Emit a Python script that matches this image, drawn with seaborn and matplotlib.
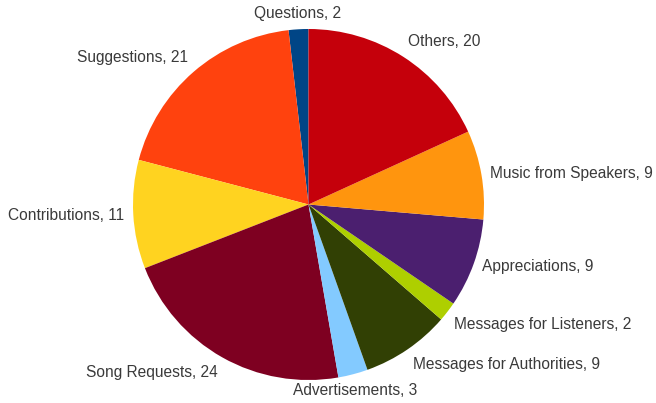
import numpy as np
import matplotlib
matplotlib.use("Agg")
import matplotlib.pyplot as plt
import seaborn as sns

# Data (counter-clockwise from 12 o'clock)
categories = ["Questions", "Suggestions", "Contributions", "Song Requests",
              "Advertisements", "Messages for Authorities", "Messages for Listeners",
              "Appreciations", "Music from Speakers", "Others"]
values = [2, 21, 11, 24, 3, 9, 2, 9, 9, 20]
colors = ["#004586", "#ff420e", "#ffd320", "#7e0021", "#83caff",
          "#314004", "#aecf00", "#4b1f6f", "#ff950e", "#c5000b"]

sns.set_theme(style="white")
plt.rcParams['font.family'] = ['Liberation Sans', 'DejaVu Sans']

fig = plt.figure(figsize=(6.56, 4.03), dpi=100)
ax = fig.add_axes([133 / 656, 23 / 403, 351 / 656, 351 / 403])

palette = sns.color_palette(colors)
labels = [f"{c}, {v}" for c, v in zip(categories, values)]
wedges, texts = ax.pie(values, labels=labels, colors=palette, startangle=90,
                       counterclock=True, labeldistance=1.05,
                       wedgeprops=dict(linewidth=0),
                       textprops=dict(fontsize=11.2, color="#3a3a3a"))

for w, t in zip(wedges, texts):
    ang = np.deg2rad((w.theta1 + w.theta2) / 2)
    c, s = np.cos(ang), np.sin(ang)
    t.set_ha('left' if c > 0.3 else ('right' if c < -0.3 else 'center'))
    t.set_va('bottom' if s > 0.35 else ('top' if s < -0.35 else 'center'))

ax.set_xlim(-1, 1)
ax.set_ylim(-1, 1)
ax.set_aspect('auto')
ax.axis('off')

fig.savefig("out.png", dpi=100)
